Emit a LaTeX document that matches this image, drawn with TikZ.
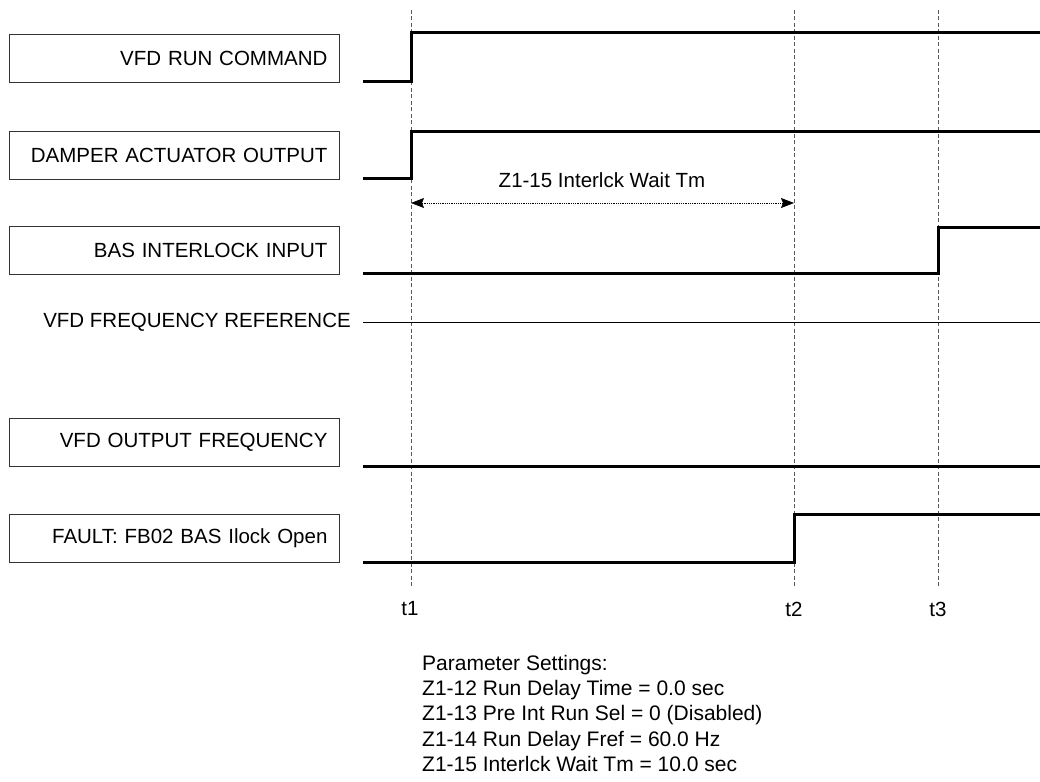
\documentclass[tikz,border=0pt]{standalone}
\usepackage{fontspec}
\setmainfont{Liberation Sans}
\usetikzlibrary{arrows.meta}
\begin{document}
\begin{tikzpicture}[x=1pt,y=-1pt,
  lbl/.style={draw=black!80, line width=0.9pt, minimum width=330pt, minimum height=48pt,
    text width=306pt, align=right, inner sep=0pt, anchor=north west,
    font=\fontsize{20.5}{24}\selectfont},
  txt/.style={inner sep=0pt, font=\fontsize{20.5}{24}\selectfont},
  sig/.style={line width=3pt, black},
  tline/.style={draw=black!65, line width=1pt, dash pattern=on 4pt off 2.5pt},
  thin/.style={line width=0.9pt, black}]
\useasboundingbox (0,0) rectangle (1040,781);

% label boxes
\node[lbl] (run) at (9,34) {VFD RUN COMMAND};
\node[lbl] (damp) at (9,131) {DAMPER ACTUATOR OUTPUT};
\node[lbl] (bas) at (9,226) {BAS INTERLOCK INPUT};
\node[txt, anchor=east] (fref) at (351,322) {VFD FREQUENCY REFERENCE};
\node[lbl] (ofreq) at (9,418) {VFD OUTPUT FREQUENCY};
\node[lbl] (fault) at (9,514) {FAULT: FB02 BAS Ilock Open};

% time markers
\coordinate (t1top) at (411,10);  \coordinate (t1bot) at (411,586);
\coordinate (t2top) at (794,10);  \coordinate (t2bot) at (794,586);
\coordinate (t3top) at (938,10);  \coordinate (t3bot) at (938,586);
\draw[tline] (t1top) -- (t1bot);
\draw[tline] (t2top) -- (t2bot);
\draw[tline] (t3top) -- (t3bot);
\node[txt] (t1) at (410,609) {t1};
\node[txt] (t2) at (794,609) {t2};
\node[txt] (t3) at (938,609) {t3};

% signals
\draw[sig] (363,82) -- (411,82) -- (411,33) -- (1040,33);
\draw[sig] (363,178) -- (411,178) -- (411,131) -- (1040,131);
\draw[sig] (363,273) -- (938,273) -- (938,227) -- (1040,227);
\draw[thin] (363,322) -- (1040,322);
\draw[sig] (363,466) -- (1040,466);
\draw[sig] (363,562) -- (794,562) -- (794,514) -- (1040,514);

% interlock wait time arrow
\coordinate (a1) at (411,203);
\coordinate (a2) at (794,203);
\draw[line width=0.8pt, densely dotted, {Stealth[length=13pt,width=10pt,inset=2pt]}-{Stealth[length=13pt,width=10pt,inset=2pt]}] (a1) -- (a2);
\node[txt] (wait) at (602,180) {Z1-15 Interlck Wait Tm};

% parameter settings
\node[txt, anchor=north west, align=left, font=\fontsize{21}{25.2}\selectfont] (params) at (422,655)
 {Parameter Settings:\\
  Z1-12 Run Delay Time = 0.0 sec\\
  Z1-13 Pre Int Run Sel = 0 (Disabled)\\
  Z1-14 Run Delay Fref = 60.0 Hz\\
  Z1-15 Interlck Wait Tm = 10.0 sec};
\end{tikzpicture}
\end{document}
